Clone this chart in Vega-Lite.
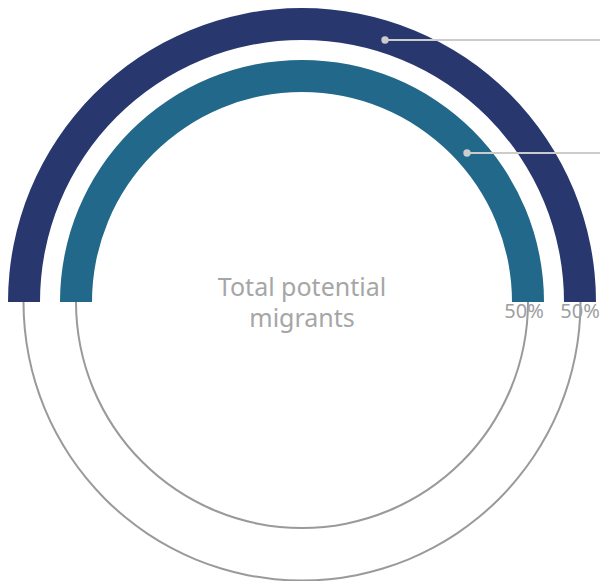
{
  "$schema": "https://vega.github.io/schema/vega-lite/v6.json",
  "width": 604,
  "height": 604,
  "padding": 0,
  "autosize": "none",
  "background": "white",
  "config": {"view": {"stroke": null}},
  "datasets": {
    "rings": [
      {"ring": "Outer", "start": 0, "value": 0.5, "total": 1},
      {"ring": "Inner", "start": 0, "value": 0.5, "total": 1}
    ],
    "leaders": [
      {"ring": "Outer", "px": 83, "py": 262, "ex": 300},
      {"ring": "Inner", "px": 165, "py": 149, "ex": 300}
    ],
    "center": [{"label": "Total potential migrants"}]
  },
  "layer": [
    {
      "data": {"name": "rings"},
      "transform": [{"filter": "datum.ring === 'Outer'"}],
      "mark": {"type": "arc", "radius": 294, "radius2": 262, "color": "#28386f"},
      "encoding": {
        "theta": {"field": "start", "type": "quantitative", "scale": {"type": "linear", "domain": [0, 1], "range": [-1.5708, 4.7124], "zero": false}},
        "theta2": {"field": "value"}
      }
    },
    {
      "data": {"name": "rings"},
      "transform": [{"filter": "datum.ring === 'Outer'"}],
      "mark": {"type": "arc", "radius": 279.5, "radius2": 277.5, "color": "#9a9a9a"},
      "encoding": {
        "theta": {"field": "value", "type": "quantitative"},
        "theta2": {"field": "total"}
      }
    },
    {
      "data": {"name": "rings"},
      "transform": [{"filter": "datum.ring === 'Inner'"}],
      "mark": {"type": "arc", "radius": 242, "radius2": 210, "color": "#21688a"},
      "encoding": {
        "theta": {"field": "start", "type": "quantitative"},
        "theta2": {"field": "value"}
      }
    },
    {
      "data": {"name": "rings"},
      "transform": [{"filter": "datum.ring === 'Inner'"}],
      "mark": {"type": "arc", "radius": 227, "radius2": 225, "color": "#9a9a9a"},
      "encoding": {
        "theta": {"field": "value", "type": "quantitative"},
        "theta2": {"field": "total"}
      }
    },
    {
      "data": {"name": "rings"},
      "transform": [{"filter": "datum.ring === 'Outer'"}],
      "mark": {"type": "text", "radius": 278, "dy": 10, "font": "Noto Sans", "fontSize": 20, "color": "#a0a0a0", "align": "center", "baseline": "middle"},
      "encoding": {
        "theta": {"field": "value", "type": "quantitative"},
        "text": {"field": "value", "type": "quantitative", "format": ".0%"}
      }
    },
    {
      "data": {"name": "rings"},
      "transform": [{"filter": "datum.ring === 'Inner'"}],
      "mark": {"type": "text", "radius": 222, "dy": 10, "font": "Noto Sans", "fontSize": 20, "color": "#a0a0a0", "align": "center", "baseline": "middle"},
      "encoding": {
        "theta": {"field": "value", "type": "quantitative"},
        "text": {"field": "value", "type": "quantitative", "format": ".0%"}
      }
    },
    {
      "data": {"name": "leaders"},
      "mark": {"type": "rule", "color": "#cccccc", "strokeWidth": 2},
      "encoding": {
        "x": {"field": "px", "type": "quantitative", "scale": {"domain": [-302, 302], "range": [0, 604], "zero": false, "nice": false}, "axis": null},
        "x2": {"field": "ex"},
        "y": {"field": "py", "type": "quantitative", "scale": {"domain": [-302, 302], "range": [604, 0], "zero": false, "nice": false}, "axis": null}
      }
    },
    {
      "data": {"name": "leaders"},
      "mark": {"type": "point", "filled": true, "color": "#cccccc", "size": 55, "opacity": 1},
      "encoding": {
        "x": {"field": "px", "type": "quantitative"},
        "y": {"field": "py", "type": "quantitative"}
      }
    },
    {
      "data": {"name": "center"},
      "mark": {"type": "text", "text": ["Total potential", "migrants"], "font": "Noto Sans", "fontSize": 25, "lineHeight": 31, "dy": -14, "color": "#a6a6a6", "align": "center", "baseline": "middle"},
      "encoding": {}
    }
  ]
}
